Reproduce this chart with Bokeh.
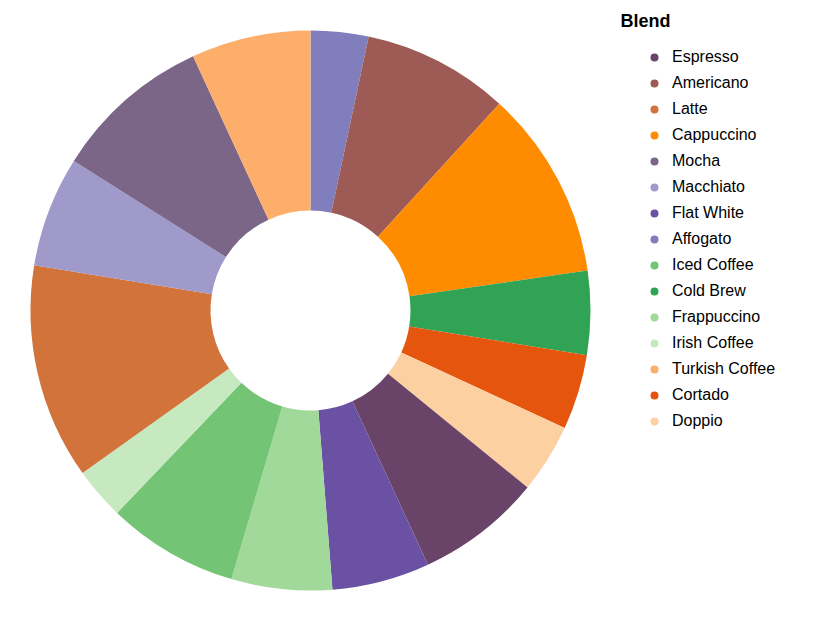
import numpy as np
from bokeh.plotting import figure
from bokeh.models import ColumnDataSource, Legend, LegendItem
from bokeh.embed import file_html
from bokeh.resources import INLINE
from bokeh.core.properties import value

blends = ["Affogato","Americano","Cappuccino","Cold Brew","Cortado","Doppio","Espresso","Flat White",
          "Frappuccino","Iced Coffee","Irish Coffee","Latte","Macchiato","Mocha","Turkish Coffee"]
values = [12,30.4,39.4,17.4,15.6,14.4,26,20.3,20.9,27.3,10.8,44.8,23,32.9,24.8]
colors = {"Espresso":"#6a4468","Americano":"#9e5b55","Latte":"#d1733a","Cappuccino":"#ff8c00",
          "Mocha":"#7b6688","Macchiato":"#9f9ac9","Flat White":"#6b51a4","Affogato":"#807ebd",
          "Iced Coffee":"#74c476","Cold Brew":"#31a354","Frappuccino":"#a1d99b","Irish Coffee":"#c7e9c0",
          "Turkish Coffee":"#fdae6b","Cortado":"#e6550d","Doppio":"#fdd0a2"}
legend_order = ["Espresso","Americano","Latte","Cappuccino","Mocha","Macchiato","Flat White","Affogato",
                "Iced Coffee","Cold Brew","Frappuccino","Irish Coffee","Turkish Coffee","Cortado","Doppio"]

v = np.array(values, dtype=float)
frac = v / v.sum() * 2 * np.pi
ends = np.cumsum(frac)
starts = ends - frac
src = ColumnDataSource(dict(start=np.pi/2 - starts, end=np.pi/2 - ends,
                            color=[colors[b] for b in blends], blend=blends))

W, H = 800, 600
p = figure(width=W, height=H, x_range=(0, W), y_range=(0, H), output_backend="svg",
           toolbar_location=None, min_border=0)
p.axis.visible = False
p.grid.visible = False
p.outline_line_color = None
cx, cy = 310, H - 310
p.annular_wedge(x=cx, y=cy, inner_radius=100, outer_radius=280, start_angle="start", end_angle="end",
                direction="clock", color="color", line_color=None, source=src)

p.text(x=[620], y=[H - 20], text=["Blend"], text_font=value("Liberation Sans"), text_font_size="18px",
       text_font_style="bold", text_color="#000000", text_baseline="middle", text_align="left")

items = []
for b in legend_order:
    r = p.scatter(x=[-1000], y=[-1000], marker="circle", size=19, fill_color=colors[b], line_color=None)
    items.append(LegendItem(label=b, renderers=[r]))
leg = Legend(items=items, location=(644, 169), background_fill_alpha=0,
             border_line_color=None, label_text_font="Liberation Sans", label_text_font_size="16px",
             label_text_color="#000000",
             glyph_height=20, glyph_width=20, label_height=20, spacing=6, padding=4, margin=0,
             label_standoff=8)
p.add_layout(leg)

open("out.html", "w").write(file_html(p, INLINE))
